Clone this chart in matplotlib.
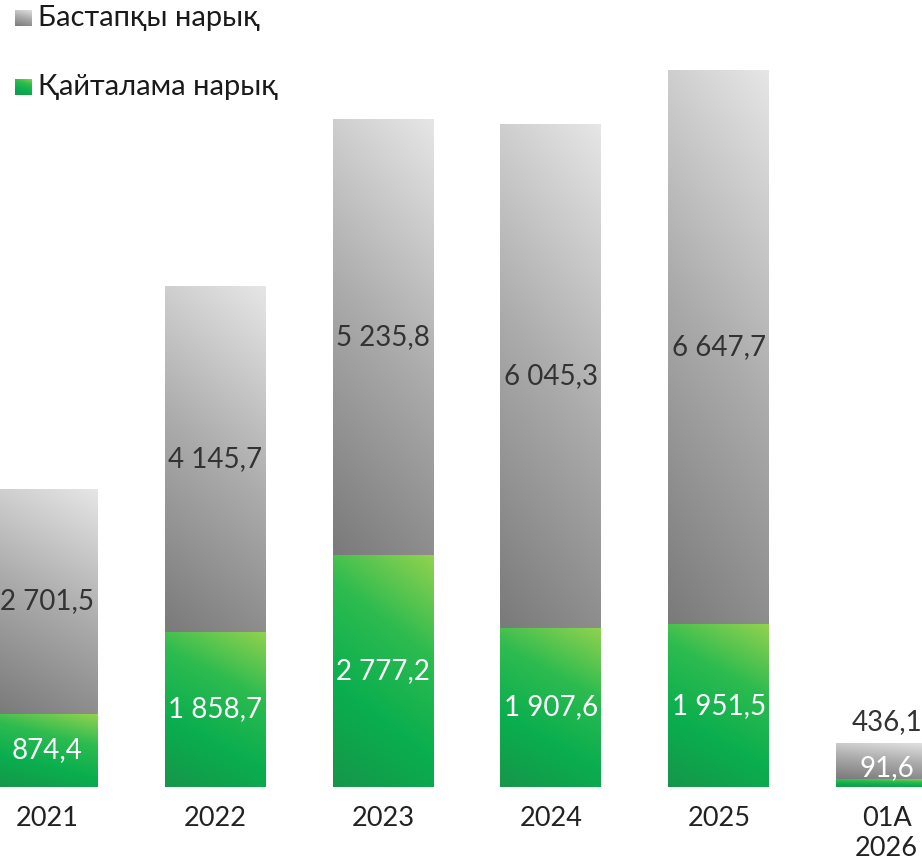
import numpy as np
import matplotlib
matplotlib.use("Agg")
import matplotlib.pyplot as plt
from matplotlib.colors import LinearSegmentedColormap

categories = ["2021", "2022", "2023", "2024", "2025", "01A\n2026"]
secondary = [874.4, 1858.7, 2777.2, 1907.6, 1951.5, 91.6]   # Қайталама нарық
primary = [2701.5, 4145.7, 5235.8, 6045.3, 6647.7, 436.1]    # Бастапқы нарық
series_names = ["Бастапқы нарық", "Қайталама нарық"]

def fmt(v):
    s = f"{v:,.1f}".replace(",", " ").replace(".", ",")
    return s

plt.rcParams['font.family'] = ['Lato', 'DejaVu Sans']

gray_cmap = LinearSegmentedColormap.from_list("g", ["#7a7a7a", "#ababab", "#e6e6e6"])
green_cmap = LinearSegmentedColormap.from_list("gr", ["#16964a", "#0aae4e", "#2dbb50", "#92d24f"])

fig = plt.figure(figsize=(9.22, 8.65), dpi=100)
ax = fig.add_axes([0, 78/865, 1, 787/865])
ax.set_xlim(-0.28, 5.21)
ax.set_ylim(0, 787/0.0834)
ax.axis('off')

x = np.arange(len(categories))
w = 0.60

def grad(u_w, v_w, n=200):
    u = np.linspace(0, 1, n)
    v = np.linspace(0, 1, n)
    U, V = np.meshgrid(u, v)
    return v_w * V + u_w * U

b1 = ax.bar(x, secondary, w, color='none', edgecolor='none')
b2 = ax.bar(x, primary, w, bottom=secondary, color='none', edgecolor='none')

G = grad(0.2, 0.8)
Gg = grad(0.25, 0.75)
for bars, cmap, arr in [(b1, green_cmap, Gg), (b2, gray_cmap, G)]:
    for p in bars:
        x0, y0 = p.get_x(), p.get_y()
        x1, y1 = x0 + p.get_width(), y0 + p.get_height()
        im = ax.imshow(arr, cmap=cmap, extent=[x0, x1, y0, y1], origin='lower',
                       aspect='auto', interpolation='bicubic', vmin=0, vmax=1, zorder=2)
        im.set_clip_path(p)
        ax.add_patch(p)

fs = 20
for i in range(len(categories)):
    if i < len(categories) - 1:
        ax.text(x[i], secondary[i] / 2, fmt(secondary[i]), ha='center', va='center',
                color='white', fontsize=fs, zorder=5)
        ax.text(x[i], secondary[i] + primary[i] / 2, fmt(primary[i]), ha='center', va='center',
                color='#333333', fontsize=fs, zorder=5)
    else:
        ax.text(x[i], (secondary[i] + primary[i]) / 2 - 40, fmt(secondary[i]), ha='center', va='center',
                color='white', fontsize=fs, zorder=5)
        ax.text(x[i], secondary[i] + primary[i] + 100, fmt(primary[i]), ha='center', va='bottom',
                color='#333333', fontsize=fs, zorder=5)
    ax.text(x[i], -230, categories[i], ha='center', va='top', color='#222222',
            fontsize=19.5, linespacing=1.25, clip_on=False)

# legend
for j, (name, cmap, arr) in enumerate([(series_names[0], gray_cmap, G), (series_names[1], green_cmap, Gg)]):
    yc = 18 if j == 0 else 87
    lax = fig.add_axes([15/922, 1 - (yc + 8.5)/865, 17/922, 17/865])
    lax.imshow(arr, cmap=cmap, origin='lower', aspect='auto', vmin=0, vmax=1)
    lax.axis('off')
    fig.text(38/922, 1 - yc/865, name, ha='left', va='center', fontsize=21, color='#1a1a1a')

fig.savefig("out.png", dpi=100)
